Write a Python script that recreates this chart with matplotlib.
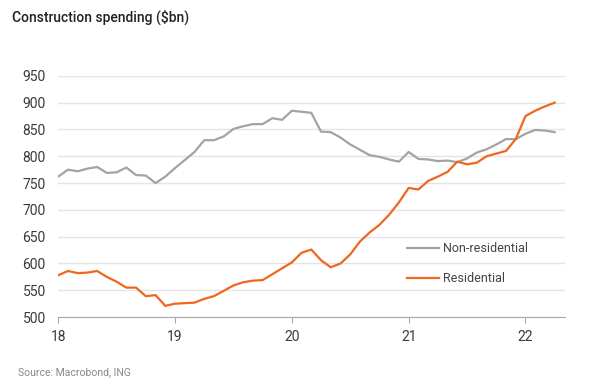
import numpy as np
import matplotlib.pyplot as plt

plt.rcParams['font.family'] = ['Roboto', 'DejaVu Sans']

# monthly data, Jan 2018 - Apr 2022
non_residential = [762, 775, 772, 777, 780, 769, 770, 779, 765, 764, 750, 762,
                   778, 793, 808, 830, 830, 837, 851, 856, 860, 860, 871, 868,
                   885, 883, 881, 846, 845, 835, 822, 812, 802, 799, 794, 790,
                   808, 795, 794, 791, 792, 789, 796, 807, 813, 822, 832, 832,
                   842, 849, 848, 845]
residential = [578, 586, 582, 583, 586, 575, 566, 555, 555, 539, 541, 521,
               525, 526, 527, 534, 539, 549, 559, 565, 568, 569, 580, 591,
               602, 620, 626, 606, 593, 600, 617, 641, 658, 672, 691, 714,
               741, 738, 754, 762, 771, 790, 785, 788, 800, 805, 810, 832,
               875, 885, 893, 900]
year_ticks = [18, 19, 20, 21, 22]
y_ticks = [500, 550, 600, 650, 700, 750, 800, 850, 900, 950]

t = 18 + np.arange(len(residential)) / 12

fig = plt.figure(figsize=(6, 3.91), dpi=100)
ax = fig.add_axes([0.097, 0.189, 0.845, 0.617])

ax.plot(t, non_residential, color='#a3a3a3', lw=1.6, label='Non-residential')
ax.plot(t, residential, color='#f0661e', lw=1.6, label='Residential')

ax.set_xlim(18, 22.34)
ax.set_ylim(500, 950)
ax.set_yticks(y_ticks)
ax.set_xticks(year_ticks)
ax.set_xticklabels([str(y) for y in year_ticks])
ax.grid(axis='y', color='#e4e4e4', lw=1)
ax.set_axisbelow(True)
for s in ['top', 'right', 'left']:
    ax.spines[s].set_visible(False)
ax.spines['bottom'].set_color('#aaaaaa')
ax.tick_params(axis='y', length=0, pad=9, labelsize=10, labelcolor='#3a3a3a')
ax.tick_params(axis='x', length=4, color='#aaaaaa', pad=5, labelsize=10,
               labelcolor='#3a3a3a')

ax.legend(loc='upper left', bbox_to_anchor=(0.665, 0.357), frameon=False,
          handlelength=2.6, fontsize=9, labelspacing=1.35, handletextpad=0.35,
          labelcolor='#444444')

fig.text(0.02, 0.975, 'Construction spending ($bn)', fontsize=10,
         fontweight='medium', color='#222222', va='top')
fig.text(0.03, 0.04, 'Source: Macrobond, ING', fontsize=7.5, color='#888888')

fig.savefig('out.png', dpi=100)
